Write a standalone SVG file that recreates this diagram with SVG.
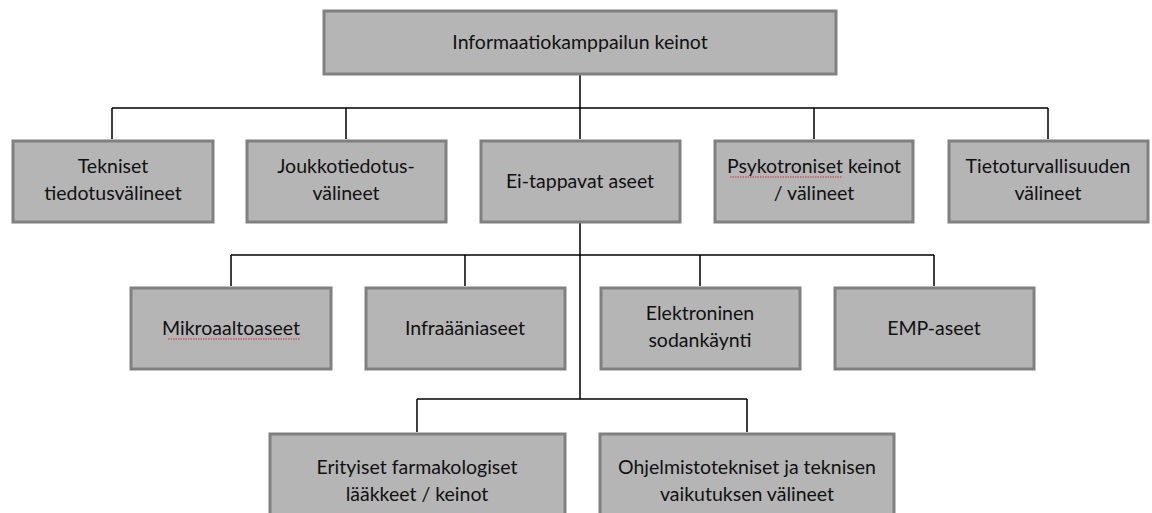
<svg xmlns="http://www.w3.org/2000/svg" width="1152" height="513" viewBox="0 0 1152 513">
<style>
.box{fill:#b5b5b5;stroke:#808080;stroke-width:3}
.t{font-family:Lato,"Liberation Sans",sans-serif;font-size:19.5px;fill:#111;text-anchor:middle}
.c{fill:none;stroke:#000;stroke-width:1.5}
.sq{fill:none;stroke:#e03030;stroke-width:1;stroke-dasharray:1.5 1}
</style>
<rect width="1152" height="513" fill="#fff"/>
<g id="connectors">
<path class="c" d="M580 75V108M112 108H1048M112 108V139M346 108V139M580 108V139M814 108V139M1048 108V139"/>
<path class="c" d="M580 223V399M231 255H934M231 255V286M465 255V286M700 255V286M934 255V286"/>
<path class="c" d="M417 399H747M417 399V432M747 399V432"/>
</g>
<g id="n0"><rect class="box" x="324" y="11" width="512" height="63"/><text class="t" x="580" y="49">Informaatiokamppailun keinot</text></g>
<g id="n1"><rect class="box" x="13" y="141" width="200" height="81"/><text class="t" x="113" y="173">Tekniset</text><text class="t" x="113" y="200">tiedotusvälineet</text></g>
<g id="n2"><rect class="box" x="247" y="141" width="199" height="81"/><text class="t" x="346" y="173">Joukkotiedotus-</text><text class="t" x="346" y="200">välineet</text></g>
<g id="n3"><rect class="box" x="481" y="141" width="199" height="81"/><text class="t" x="580" y="188">Ei-tappavat aseet</text></g>
<g id="n4"><rect class="box" x="715" y="141" width="198" height="81"/><text class="t" x="814" y="173">Psykotroniset keinot</text><text class="t" x="814" y="200">/ välineet</text><path class="sq" d="M730 177H842"/></g>
<g id="n5"><rect class="box" x="949" y="141" width="199" height="81"/><text class="t" x="1048" y="173">Tietoturvallisuuden</text><text class="t" x="1048" y="200">välineet</text></g>
<g id="n6"><rect class="box" x="131" y="288" width="200" height="81"/><text class="t" x="231" y="335">Mikroaaltoaseet</text><path class="sq" d="M168 339H300"/></g>
<g id="n7"><rect class="box" x="366" y="288" width="199" height="81"/><text class="t" x="465" y="335">Infraääniaseet</text></g>
<g id="n8"><rect class="box" x="601" y="288" width="199" height="81"/><text class="t" x="700" y="320">Elektroninen</text><text class="t" x="700" y="347">sodankäynti</text></g>
<g id="n9"><rect class="box" x="835" y="288" width="199" height="81"/><text class="t" x="934" y="335">EMP-aseet</text></g>
<g id="n10"><rect class="box" x="270" y="434" width="295" height="90"/><text class="t" x="417" y="474">Erityiset farmakologiset</text><text class="t" x="417" y="501">lääkkeet / keinot</text></g>
<g id="n11"><rect class="box" x="600" y="434" width="294" height="90"/><text class="t" x="747" y="474">Ohjelmistotekniset ja teknisen</text><text class="t" x="747" y="501">vaikutuksen välineet</text></g>
</svg>
